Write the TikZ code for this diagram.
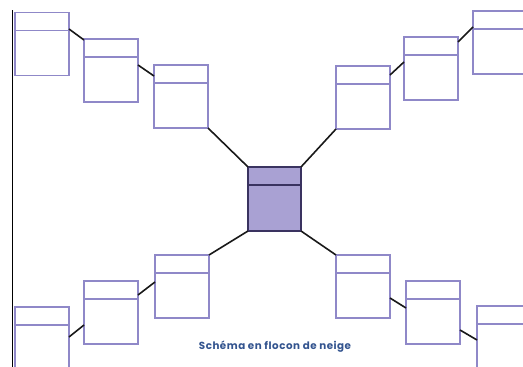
\documentclass[tikz,border=0pt]{standalone}
\usepackage{fontspec}
\setmainfont{Poppins}
\newfontfamily\captionfont[LetterSpace=5]{Poppins}
\usetikzlibrary{calc}
\definecolor{boxline}{HTML}{8F88C8}
\definecolor{hubfill}{HTML}{A9A1D3}
\definecolor{hubline}{HTML}{3A3360}
\definecolor{titleblue}{HTML}{33548F}
\tikzset{
  leaf/.style={draw=boxline, line width=1.2pt, fill=white, anchor=north west,
    minimum width=54pt, minimum height=63pt, inner sep=0pt, outer sep=0pt},
  hub/.style={draw=hubline, line width=1.2pt, fill=hubfill, anchor=north west,
    minimum width=53pt, minimum height=64pt, inner sep=0pt, outer sep=0pt},
  link/.style={draw=black!90, line width=1.6pt},
}
\newcommand{\divider}[3][boxline]{%
  \draw[#1, line width=1.2pt] ($(#2.north west)+(0,-#3pt)$) -- ($(#2.north east)+(0,-#3pt)$);}
\begin{document}
\begin{tikzpicture}[x=1pt,y=1pt]
\clip (0,0) rectangle (523,-367);
\fill[white] (0,0) rectangle (523,-367);
% left rule
\draw[black, line width=1pt] (12,-10) -- (12,-367);

% hub
\node[hub] (X) at (248,-167) {};
\draw[hubline, line width=1.2pt] ($(X.north west)+(0,-18pt)$) -- ($(X.north east)+(0,-18pt)$);

% upper-left arm
\node[leaf] (A) at (15,-12.7) {};
\node[leaf] (B) at (84,-39) {};
\node[leaf] (C) at (154,-65) {};
% upper-right arm
\node[leaf] (D) at (336,-66) {};
\node[leaf] (E) at (404,-37) {};
\node[leaf] (F) at (473,-11) {};
% lower-left arm
\node[leaf] (I) at (155,-255) {};
\node[leaf] (H) at (84,-281) {};
\node[leaf] (G) at (15,-307) {};
% lower-right arm
\node[leaf] (J) at (336,-255) {};
\node[leaf] (K) at (406,-281) {};
\node[leaf] (L) at (477,-306) {};

\foreach \b in {A,B,C,D,E,F,G,H,I,J,K,L}{\divider{\b}{18}}

% connectors
\draw[link] ($(A.north east)+(0,-16.3pt)$) -- ($(B.north west)+(0,-1pt)$);
\draw[link] ($(B.north east)+(0,-26pt)$) -- ($(C.north west)+(0,-11pt)$);
\draw[link] (C.south east) -- (X.north west);
\draw[link] (X.north east) -- (D.south west);
\draw[link] ($(D.north east)+(0,-9pt)$) -- ($(E.north west)+(0,-25pt)$);
\draw[link] ($(E.north east)+(0,-5pt)$) -- ($(F.north west)+(0,-16pt)$);
\draw[link] (X.south west) -- (I.north east);
\draw[link] ($(I.north west)+(0,-27pt)$) -- ($(H.north east)+(0,-14pt)$);
\draw[link] ($(H.north west)+(0,-44pt)$) -- ($(G.north east)+(0,-30pt)$);
\draw[link] (X.south east) -- (J.north west);
\draw[link] ($(J.north east)+(0,-43pt)$) -- ($(K.north west)+(0,-27pt)$);
\draw[link] ($(K.north east)+(0,-49pt)$) -- ($(L.north west)+(0,-34pt)$);

% caption
\node[text=titleblue, font=\captionfont\bfseries\fontsize{10.3}{12}\selectfont, inner sep=0pt] (title) at (275,-347) {Schéma en flocon de neige};
\end{tikzpicture}
\end{document}
